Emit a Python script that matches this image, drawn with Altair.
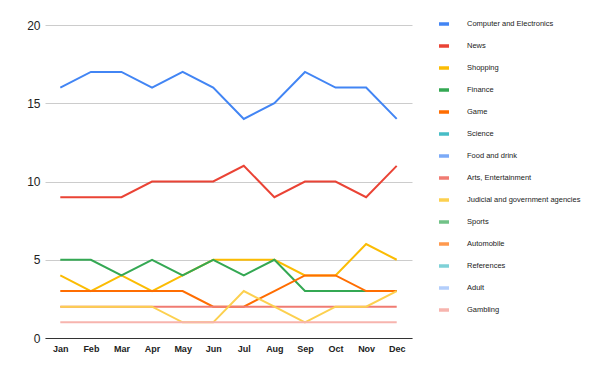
import altair as alt
import pandas as pd

months = ["Jan", "Feb", "Mar", "Apr", "May", "Jun", "Jul", "Aug", "Sep", "Oct", "Nov", "Dec"]

categories = [
    "Computer and Electronics", "News", "Shopping", "Finance", "Game", "Science",
    "Food and drink", "Arts, Entertainment", "Judicial and government agencies",
    "Sports", "Automobile", "References", "Adult", "Gambling",
]
colors = [
    "#4285f4", "#ea4335", "#fbbc04", "#34a853", "#ff6d01", "#46bdc6", "#7baaf7",
    "#f07b72", "#fcd04f", "#71c287", "#ff994d", "#7ed1d7", "#b3cefb", "#f7b4ae",
]

computer = [16, 17, 17, 16, 17, 16, 14, 15, 17, 16, 16, 14]
news = [9, 9, 9, 10, 10, 10, 11, 9, 10, 10, 9, 11]
shopping = [4, 3, 4, 3, 4, 5, 5, 5, 4, 4, 6, 5]
finance = [5, 5, 4, 5, 4, 5, 4, 5, 3, 3, 3, 3]
game = [3, 3, 3, 3, 3, 2, 2, 3, 4, 4, 3, 3]
arts = [2, 2, 2, 2, 2, 2, 2, 2, 2, 2, 2, 2]
judicial = [2, 2, 2, 2, 1, 1, 3, 2, 1, 2, 2, 3]
gambling = [1, 1, 1, 1, 1, 1, 1, 1, 1, 1, 1, 1]

series = {
    "Computer and Electronics": computer,
    "News": news,
    "Shopping": shopping,
    "Finance": finance,
    "Game": game,
    "Arts, Entertainment": arts,
    "Judicial and government agencies": judicial,
    "Gambling": gambling,
}

rows = []
for order, (name, vals) in enumerate(series.items()):
    for i, (m, v) in enumerate(zip(months, vals)):
        rows.append({"month": m, "series": name, "value": v, "ord": order})
df = pd.DataFrame(rows)

chart = alt.Chart(df).mark_line(strokeWidth=2).encode(
    x=alt.X("month:N", sort=months, title=None,
            scale=alt.Scale(type="point", padding=0.5),
            axis=alt.Axis(labelAngle=0, labelFont="Liberation Sans", labelFontSize=9,
                          labelColor="#222222", labelFontWeight="bold", ticks=False,
                          domainColor="#333333", domainWidth=1, grid=False, labelPadding=6)),
    y=alt.Y("value:Q", title=None,
            scale=alt.Scale(domain=[0, 20], nice=False),
            axis=alt.Axis(values=[0, 5, 10, 15, 20], labelFont="Liberation Sans",
                          labelFontSize=12, labelColor="#222222", ticks=False,
                          domain=False, gridColor="#cccccc", labelPadding=5)),
    color=alt.Color("series:N", scale=alt.Scale(domain=categories, range=colors),
                    legend=alt.Legend(title=None, orient="none", legendX=392, legendY=-8,
                                      symbolType="stroke", symbolSize=100,
                                      symbolStrokeWidth=3.5, labelFont="Liberation Sans",
                                      labelFontSize=7.5, labelColor="#222222",
                                      labelOffset=16, rowPadding=8, labelLimit=200)),
    detail="ord:O",
    order="ord:O",
).properties(
    width=367, height=313,
    autosize=alt.AutoSizeParams(type="none"),
    padding={"left": 37, "top": 17, "right": 180, "bottom": 25},
).configure_view(stroke=None)

chart.save("out.html", embed_options={"renderer": "svg", "actions": False})
